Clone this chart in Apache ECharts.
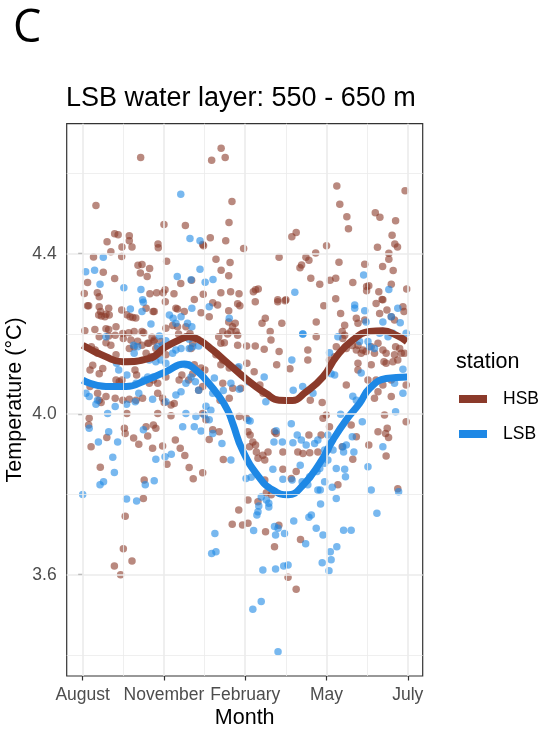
<!DOCTYPE html>
<html>
<head>
<meta charset="utf-8">
<script src="https://cdn.jsdelivr.net/npm/echarts@6/dist/echarts.min.js"></script>
<style>html,body{margin:0;padding:0;background:#fff}#c{width:544px;height:734px}</style>
</head>
<body>
<div id="c"></div>
<script>
// ---- data (month index from August = 0, temperature in °C) ----
const stations = ['HSB', 'LSB'];
const xTickValues = [0, 3, 6, 9, 12];
const xTickLabels = ['August', 'November', 'February', 'May', 'July'];
const xMinorGrid = [1.5, 4.5, 7.5, 10.5];
const yTickValues = [3.6, 4.0, 4.4];
const yMinorGrid = [3.4, 3.8, 4.2, 4.6];

const hsbObs = [
[2.14,4.64],[4.76,4.633],[5.11,4.663],[5.26,4.64],[0.49,4.52],[5.51,4.53],[3.0,4.473],[3.79,4.47],[5.4,4.478],
[1.18,4.45],[1.31,4.447],[1.72,4.445],[1.72,4.432],[1.82,4.417],[0.9,4.43],[1.45,4.417],[1.04,4.405],[2.78,4.424],
[2.79,4.415],[4.71,4.44],[5.28,4.432],[4.43,4.423],[4.46,4.42],[5.94,4.413],[0.4,4.392],[1.44,4.393],[3.1,4.381],
[4.92,4.386],[5.44,4.378],[2.04,4.371],[2.19,4.373],[2.47,4.363],[2.13,4.352],[2.38,4.343],[0.76,4.354],[0.18,4.328],
[1.18,4.338],[3.62,4.326],[4.02,4.334],[5.11,4.359],[5.39,4.345],[0.06,4.301],[0.54,4.303],[0.61,4.293],[2.48,4.30],
[2.73,4.303],[3.04,4.31],[2.97,4.303],[3.37,4.30],[5.1,4.303],[5.46,4.305],[5.77,4.30],[4.12,4.286],[4.45,4.299],
[9.38,4.569],[11.9,4.557],[9.49,4.523],[9.75,4.492],[9.81,4.462],[10.8,4.502],[10.97,4.491],[11.55,4.482],[11.42,4.446],
[11.52,4.424],[11.62,4.417],[10.88,4.416],[7.72,4.442],[7.88,4.453],[9.0,4.42],[7.25,4.391],[8.24,4.391],[8.35,4.384],
[8.6,4.402],[8.08,4.372],[8.02,4.365],[9.46,4.379],[8.42,4.339],[8.75,4.324],[9.13,4.334],[9.34,4.339],[9.97,4.328],
[10.41,4.374],[11.07,4.368],[11.3,4.401],[11.3,4.386],[11.46,4.358],[11.96,4.312],[11.39,4.324],[10.48,4.318],[10.56,4.32],
[10.48,4.308],[10.93,4.305],[6.3,4.305],[6.38,4.31],[6.48,4.312],[7.2,4.285],[7.5,4.285],[9.34,4.288],[11.05,4.286],
[0.18,4.27],[0.22,4.27],[0.61,4.268],[0.66,4.256],[0.59,4.247],[0.69,4.245],[0.96,4.264],[0.98,4.247],[0.86,4.249],
[0.82,4.243],[1.44,4.26],[1.63,4.248],[1.75,4.243],[1.85,4.241],[1.96,4.24],[2.34,4.264],[2.6,4.256],[2.64,4.256],
[3.05,4.28],[3.5,4.262],[3.75,4.256],[0.08,4.208],[0.45,4.211],[0.86,4.213],[0.96,4.211],[1.23,4.218],[0.61,4.193],
[0.96,4.195],[1.2,4.197],[1.48,4.201],[1.7,4.203],[1.9,4.206],[2.19,4.206],[2.25,4.203],[1.5,4.189],[1.78,4.185],
[2.03,4.182],[2.56,4.192],[2.64,4.185],[2.4,4.177],[2.89,4.181],[3.07,4.214],[3.32,4.221],[3.54,4.2],[3.5,4.218],
[3.44,4.264],[0.32,4.168],[0.46,4.16],[0.55,4.152],[0.86,4.178],[1.04,4.172],[1.23,4.148],[1.72,4.164],[1.9,4.168],
[2.19,4.172],[2.44,4.177],[2.63,4.181],[2.7,4.164],[0.27,4.11],[0.37,4.122],[0.61,4.101],[0.74,4.114],[1.23,4.085],
[1.35,4.081],[1.45,4.085],[1.93,4.11],[1.99,4.098],[0.27,4.069],[0.55,4.052],[0.61,4.035],[0.68,4.029],[0.86,4.044],
[1.2,4.04],[1.48,4.035],[1.72,4.037],[1.97,4.035],[2.21,4.04],[2.77,4.052],[2.95,4.04],[3.01,4.029],[3.26,4.023],
[3.38,4.027],[2.46,4.077],[2.61,4.085],[2.77,4.077],[3.07,4.093],[3.56,4.085],[3.66,4.098],[2.34,4.152],[2.52,4.143],
[2.83,4.152],[3.07,4.148],
[4.37,4.253],[4.67,4.243],[5.72,4.275],[5.8,4.27],[5.39,4.258],[4.98,4.272],[4.8,4.278],[6.37,4.28],[7.2,4.28],
[7.47,4.283],[6.74,4.239],[6.62,4.227],[7.35,4.227],[5.39,4.23],[5.63,4.227],[5.53,4.218],[5.47,4.206],[5.66,4.206],
[5.35,4.2],[5.17,4.206],[5.02,4.193],[5.1,4.177],[5.23,4.178],[5.72,4.197],[5.72,4.172],[6.05,4.17],[6.37,4.17],
[6.7,4.162],[6.92,4.206],[6.95,4.185],[7.25,4.156],[4.92,4.148],[5.17,4.135],[5.1,4.123],[5.41,4.115],[5.72,4.115],
[6.06,4.127],[6.33,4.106],[7.16,4.123],[7.65,4.113],[4.12,4.123],[4.37,4.115],[4.51,4.11],[4.06,4.101],[5.17,4.077],
[5.54,4.065],[5.84,4.065],[5.41,4.04],[5.07,4.035],[6.54,4.073],[6.66,4.052],[4.28,4.06],[4.43,4.069],[3.91,4.085],
[3.81,4.218],[3.81,4.193],[3.96,4.201],[4.06,4.177],[4.0,4.164],
[8.9,4.27],[8.62,4.23],[8.62,4.193],[9.52,4.251],[9.67,4.222],[9.58,4.206],[9.67,4.197],[10.1,4.239],[10.16,4.227],
[10.41,4.235],[10.83,4.276],[11.08,4.285],[11.23,4.26],[10.96,4.251],[11.39,4.243],[11.51,4.235],[11.82,4.268],[11.86,4.256],
[10.1,4.16],[10.34,4.16],[10.28,4.152],[10.46,4.156],[10.65,4.168],[10.77,4.152],[10.9,4.177],[11.08,4.16],[11.2,4.152],
[11.12,4.131],[11.2,4.127],[11.45,4.131],[11.51,4.148],[11.63,4.135],[11.76,4.152],[11.88,4.152],[11.7,4.164],[11.55,4.168],
[9.6,4.189],[9.73,4.164],[9.95,4.171],[10.16,4.172],[9.36,4.168],[9.3,4.143],[9.11,4.135],[8.31,4.16],[8.31,4.135],
[10.16,4.127],[10.65,4.123],[10.16,4.11],[10.53,4.085],[10.83,4.085],[11.08,4.073],[11.39,4.085],[10.9,4.056],[10.77,4.04],
[11.39,4.044],[9.73,4.073],[8.4,4.035],[8.84,4.029],[11.94,4.073],
[0.24,3.99],[0.22,3.973],[0.31,3.919],[0.89,3.942],[0.65,3.868],[1.54,3.965],[1.57,3.952],[1.88,3.941],[2.07,3.925],
[1.63,4.002],[2.34,3.969],[2.4,3.946],[2.61,3.973],[2.7,3.965],[2.77,4.002],[3.26,3.996],[2.58,3.915],[2.95,3.921],
[3.42,3.936],[3.6,3.915],[3.77,3.897],[3.93,3.867],[4.08,3.839],[4.43,3.854],[3.11,3.875],[2.27,3.836],[2.24,3.79],
[1.57,3.746],[1.5,3.665],[1.82,3.634],[1.17,3.622],[1.4,3.6],[4.43,4.002],[4.55,3.986],[4.8,3.961],[5.04,3.956],
[4.67,3.937],[5.19,3.887],[5.76,3.761],[5.52,3.726],[5.9,3.724],[5.78,3.994],
[6.04,3.99],[6.1,3.956],[6.18,3.948],[6.28,3.931],[6.38,3.923],[6.16,3.919],[6.41,3.906],[6.47,3.89],[6.72,3.886],
[6.65,3.898],[6.84,3.906],[7.08,3.956],[7.14,3.952],[7.39,3.906],[7.94,3.906],[8.13,3.902],[8.38,3.904],[8.68,3.906],
[8.35,3.948],[8.8,3.948],[7.39,3.863],[7.88,3.857],[7.7,3.84],[6.72,3.836],[6.96,3.799],[6.78,3.804],[9.42,3.824],
[9.05,3.912],[6.1,3.786],[6.47,3.782],[6.1,3.728],[7.24,3.723],[6.75,3.707],[7.08,3.67],[8.04,3.688],[7.58,3.594],
[7.88,3.564],[9.58,3.919],[9.91,3.973],[10.1,3.944],[9.97,3.888],[10.56,3.923],[10.9,3.956],[11.14,3.998],[11.18,3.952],
[11.29,3.942],[11.2,3.896],[11.24,3.965],[11.94,3.981],[11.63,3.814],[8.87,3.99],[9.11,3.969],[8.99,3.998]
];

const lsbObs = [
[3.62,4.548],[3.96,4.438],[4.33,4.432],[0.76,4.391],[0.11,4.355],[0.44,4.359],[0.64,4.324],[1.52,4.315],[2.15,4.311],
[3.49,4.343],[4.33,4.361],[4.52,4.329],[4.81,4.336],[2.21,4.285],[4.0,4.335],[7.83,4.304],[10.37,4.347],[11.3,4.311],
[2.24,4.279],[2.19,4.256],[1.76,4.262],[2.52,4.225],[0.86,4.193],[1.88,4.172],[2.03,4.168],[1.9,4.152],[2.83,4.195],
[3.07,4.183],[2.95,4.172],[2.77,4.168],[3.32,4.152],[3.44,4.16],[3.63,4.164],[3.2,4.247],[3.34,4.239],[3.44,4.227],
[3.63,4.243],[1.25,4.127],[1.33,4.11],[1.63,4.098],[2.46,4.135],[2.7,4.131],[2.89,4.135],[3.07,4.127],[2.27,4.085],
[2.4,4.093],[2.61,4.093],[1.97,4.077],[2.07,4.052],[0.12,4.052],[0.24,4.044],[0.55,4.035],[0.49,4.025],[1.2,4.019],
[1.62,4.025],[1.94,4.031],[2.58,4.037],[3.07,4.031],[3.44,4.048],[3.63,4.056],
[4.67,4.268],[4.03,4.264],[5.41,4.239],[3.87,4.227],[4.03,4.218],[3.93,4.187],[4.06,4.168],[4.28,4.17],[3.93,4.164],
[3.81,4.123],[3.91,4.123],[5.76,4.118],[7.72,4.135],[8.12,4.2],[4.0,4.093],[4.16,4.081],[3.81,4.077],[4.28,4.06],
[4.86,4.09],[4.8,4.052],[5.19,4.059],[5.47,4.077],[5.78,4.062],[6.11,4.081],[6.7,4.093],[6.76,4.031],[7.77,4.06],
[8.12,4.069],[4.55,4.02],[4.73,4.01],
[10.04,4.272],[10.04,4.264],[10.41,4.258],[10.46,4.23],[11.08,4.23],[11.39,4.243],[11.72,4.228],[11.63,4.264],[8.13,4.2],
[11.94,4.202],[9.42,4.193],[10.22,4.181],[10.53,4.181],[10.59,4.168],[10.77,4.164],[10.96,4.202],[11.08,4.206],[11.27,4.193],
[11.45,4.202],[9.11,4.153],[9.17,4.101],[9.3,4.098],[10.28,4.103],[11.82,4.112],[11.51,4.077],[11.82,4.052],[9.97,4.045],
[10.1,4.035],[8.5,4.052],
[0.24,3.965],[0.92,4.002],[0.58,3.931],[0.96,3.956],[1.29,3.931],[1.11,3.893],[1.17,3.855],[0.64,3.824],[0.77,3.832],
[0.0,3.8],[2.24,3.961],[2.31,3.824],[2.64,3.834],[2.7,3.888],[3.04,3.894],[3.27,3.9],[3.69,3.969],[4.12,3.969],
[4.37,3.958],[3.81,4.002],[4.18,3.994],[4.49,3.998],[4.67,3.986],[4.8,3.952],[5.14,3.927],[5.47,3.886],[1.62,3.789],
[1.99,3.784],[4.88,3.703],[4.76,3.653],[4.92,3.657],[6.03,3.84],
[6.18,3.983],[6.1,3.985],[7.14,3.959],[7.06,3.931],[7.37,3.931],[7.7,3.976],[7.92,3.948],[8.07,3.936],[8.25,3.923],
[7.76,3.929],[8.56,3.927],[8.68,3.936],[9.05,3.948],[9.14,3.929],[8.93,3.911],[9.24,3.911],[9.6,3.919],[9.73,3.923],
[9.95,3.944],[10.01,3.906],[9.63,3.906],[10.32,3.981],[9.52,4.0],[11.08,3.919],[11.55,4.006],[10.53,3.869],[10.65,3.811],
[10.86,3.753],[11.66,3.807],[6.22,3.843],[7.02,3.863],[7.39,3.838],[7.73,3.836],[8.1,3.832],[8.03,3.873],[8.38,3.844],
[8.31,3.824],[8.65,3.857],[8.75,3.865],[8.93,3.878],[9.05,3.886],[9.36,3.865],[9.67,3.863],[9.7,3.844],[8.93,3.832],
[8.68,3.811],[8.77,3.811],[9.21,3.818],[9.36,3.79],[6.59,3.794],[6.5,3.771],[6.47,3.757],[6.43,3.749],[6.87,3.778],
[6.87,3.769],[6.78,3.786],[6.31,3.71],[7.21,3.716],[7.12,3.699],[7.45,3.703],[7.08,3.72],[7.79,3.734],[8.35,3.743],
[8.44,3.749],[8.78,3.776],[8.62,3.716],[8.87,3.699],[8.23,3.677],[9.14,3.657],[9.38,3.67],[9.63,3.711],[9.91,3.711],
[9.17,3.637],[8.84,3.63],[9.09,3.61],[7.58,3.624],[7.42,3.622],[7.12,3.614],[6.65,3.612],[6.59,3.533],[6.28,3.514],
[7.21,3.408]
];

// smoothed (loess) trend
const hsbFitMonth = [0, 0.86, 1.48, 2.46, 3.07, 3.69, 3.9, 4.3, 4.8, 5.29, 5.78, 6.27, 6.76, 7.25, 7.75, 8.18, 8.87, 9.36, 9.97, 10.59, 11.08, 11.57, 11.97];
const hsbFitTemp  = [4.172, 4.143, 4.131, 4.139, 4.168, 4.189, 4.193, 4.185, 4.16, 4.131, 4.102, 4.075, 4.052, 4.035, 4.034, 4.052, 4.093, 4.143, 4.185, 4.206, 4.208, 4.197, 4.181];
const lsbFitMonth = [0, 0.86, 1.6, 2.34, 3.07, 3.75, 4.18, 4.55, 5.04, 5.35, 5.54, 5.9, 6.5, 7.02, 7.58, 8.13, 8.75, 9.24, 9.73, 10.22, 10.6, 11.2, 11.97];
const lsbFitTemp  = [4.085, 4.069, 4.069, 4.085, 4.106, 4.125, 4.11, 4.085, 4.044, 4.01, 3.977, 3.91, 3.844, 3.811, 3.799, 3.823, 3.878, 3.936, 3.986, 4.027, 4.065, 4.089, 4.093];

const colors = {HSB: '#8B3A2A', LSB: '#1E88E5'};
const FONT = '"Liberation Sans", Arial, sans-serif';

function zip(a, b) { return a.map((v, i) => [v, b[i]]); }

const chart = echarts.init(document.getElementById('c'), null, {renderer: 'canvas'});

const gridMarks = [].concat(
  yTickValues.map(v => ({yAxis: v, lineStyle: {color: '#EBEBEB', width: 1.6, type: 'solid'}})),
  yMinorGrid.map(v => ({yAxis: v, lineStyle: {color: '#EBEBEB', width: 0.8, type: 'solid'}})),
  xTickValues.map(v => ({xAxis: v, lineStyle: {color: '#EBEBEB', width: 1.6, type: 'solid'}})),
  xMinorGrid.map(v => ({xAxis: v, lineStyle: {color: '#EBEBEB', width: 0.8, type: 'solid'}}))
);

chart.setOption({
  animation: false,
  backgroundColor: '#fff',
  title: [
    {text: 'C', left: 13, top: 7, padding: 0, textStyle: {fontFamily: '"Open Sans", "Noto Sans", sans-serif', fontSize: 45, fontWeight: 'normal', color: '#000'}},
    {text: 'LSB water layer: 550 - 650 m', left: 66, top: 85, padding: 0, textStyle: {fontFamily: FONT, fontSize: 27, fontWeight: 'normal', color: '#000'}},
    {text: 'station', left: 456, top: 351, padding: 0, textStyle: {fontFamily: FONT, fontSize: 21.5, fontWeight: 'normal', color: '#000'}}
  ],
  grid: {left: 66.7, right: 121.3, top: 123.7, bottom: 58, show: true, borderColor: '#333333', borderWidth: 1.2,
    backgroundColor: 'transparent', containLabel: false, outerBoundsMode: 'none'},
  legend: {
    orient: 'vertical', left: 459, top: 389, padding: 0, itemWidth: 28, itemHeight: 8, itemGap: 15, icon: 'rect',
    data: stations,
    itemStyle: {opacity: 1},
    textStyle: {fontFamily: FONT, fontSize: 17.5, color: '#000', lineHeight: 20, padding: [0, 0, 0, 11]},
    selectedMode: false
  },
  xAxis: {
    type: 'value', min: -0.59, max: 12.55,
    name: 'Month', nameLocation: 'middle', nameGap: 31, nameMoveOverlap: false,
    nameTextStyle: {fontFamily: FONT, fontSize: 21.5, color: '#000'},
    axisLine: {show: false},
    axisTick: {show: true, customValues: xTickValues, length: 4.5, lineStyle: {color: '#333333', width: 1.2}},
    axisLabel: {customValues: xTickValues, margin: 10, fontFamily: FONT, fontSize: 17.5, color: '#4D4D4D',
      formatter: v => { const i = xTickValues.indexOf(v); return i >= 0 ? xTickLabels[i] : ''; }},
    splitLine: {show: false}
  },
  yAxis: {
    type: 'value', min: 3.3476, max: 4.724,
    name: 'Temperature (°C)', nameLocation: 'middle', nameGap: 41, nameMoveOverlap: false,
    nameTextStyle: {fontFamily: FONT, fontSize: 21.5, color: '#000'},
    axisLine: {show: false},
    axisTick: {show: true, customValues: yTickValues, length: 4.5, lineStyle: {color: '#333333', width: 1.2}},
    axisLabel: {customValues: yTickValues, margin: 10, fontFamily: FONT, fontSize: 17.5, color: '#4D4D4D',
      formatter: v => v.toFixed(1)},
    splitLine: {show: false}
  },
  series: [
    {name: '_grid', type: 'scatter', data: [], z: 0, silent: true,
      markLine: {silent: true, symbol: ['none', 'none'], label: {show: false}, animation: false, data: gridMarks}},
    {name: 'HSB points', type: 'scatter', data: hsbObs, symbolSize: 7.5, z: 2,
      itemStyle: {color: colors.HSB, opacity: 0.6}},
    {name: 'LSB points', type: 'scatter', data: lsbObs, symbolSize: 7.5, z: 2,
      itemStyle: {color: colors.LSB, opacity: 0.6}},
    {name: 'HSB', type: 'line', data: zip(hsbFitMonth, hsbFitTemp), smooth: 0.5, showSymbol: false, z: 3,
      itemStyle: {color: colors.HSB}, lineStyle: {color: colors.HSB, width: 7}},
    {name: 'LSB', type: 'line', data: zip(lsbFitMonth, lsbFitTemp), smooth: 0.5, showSymbol: false, z: 3,
      itemStyle: {color: colors.LSB}, lineStyle: {color: colors.LSB, width: 7}}
  ]
});
</script>
</body>
</html>
